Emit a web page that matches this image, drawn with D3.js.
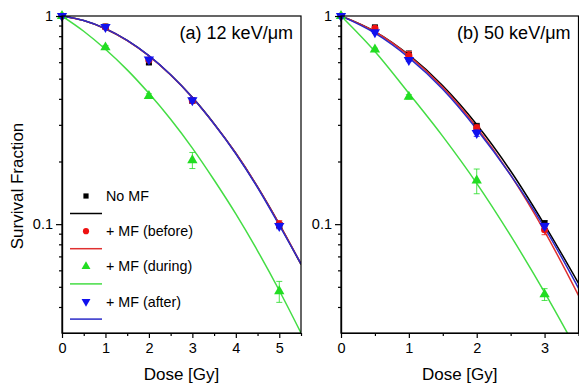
<!DOCTYPE html>
<html>
<head>
<meta charset="utf-8">
<script src="https://d3js.org/d3.v7.min.js"></script>
<style>
  body { margin: 0; background: #fff; }
  svg { display: block; font-family: "Liberation Sans", Arial, sans-serif; }
  .axis path, .axis line { stroke: #000; stroke-width: 1.2; }
  .axis text { font-size: 14.5px; fill: #000; }
</style>
</head>
<body>
<script>
// series
const seriesNames = ['No MF', '+ MF (before)', '+ MF (during)', '+ MF (after)'];
const markerColors = ['#000000', '#ee1111', '#22dd22', '#1111ee'];
const lineColors = ['#000000', '#e03030', '#44dd44', '#2b2bc8'];

// (a) 12 keV/um - measured points
const doseA = [0, 1, 2, 3, 5];
const noMF_A = [1, 0.89, 0.598, 0.392, 0.099];
const before_A = [1, 0.885, 0.615, 0.392, 0.1];
const during_A = [1, 0.707, 0.413, 0.203, 0.0476];
const after_A = [1, 0.885, 0.618, 0.394, 0.098];
const errNoMF_A = [0, 0.02, 0.012, 0.01, 0.003];
const errBefore_A = [0, 0.02, 0.01, 0.01, 0.004];
const errDuring_A = [0, 0.015, 0.01, 0.018, 0.0055];
const errAfter_A = [0, 0.012, 0.01, 0.01, 0.003];

// (a) fitted curves
const fitDoseA = [0, 0.5, 1, 1.5, 2, 2.5, 3, 3.5, 4, 4.5, 5, 5.5];
const fitNoMF_A = [1, 0.951, 0.869, 0.763, 0.644, 0.522, 0.407, 0.304, 0.219, 0.151, 0.100, 0.064];
const fitBefore_A = [1, 0.950, 0.868, 0.762, 0.643, 0.521, 0.406, 0.303, 0.219, 0.151, 0.100, 0.0645];
const fitDuring_A = [1, 0.845, 0.692, 0.551, 0.425, 0.319, 0.232, 0.163, 0.112, 0.0745, 0.048, 0.030];
const fitAfter_A = [1, 0.951, 0.870, 0.764, 0.645, 0.522, 0.406, 0.303, 0.218, 0.150, 0.099, 0.0645];

// (b) 50 keV/um - measured points
const doseB = [0, 0.5, 1, 2, 3];
const noMF_B = [1, 0.882, 0.65, 0.295, 0.101];
const before_B = [1, 0.872, 0.645, 0.29, 0.094];
const during_B = [1, 0.69, 0.409, 0.162, 0.046];
const after_B = [1, 0.835, 0.614, 0.274, 0.098];
const errNoMF_B = [0, 0.01, 0.03, 0.01, 0.003];
const errBefore_B = [0, 0.01, 0.03, 0.01, 0.005];
const errDuring_B = [0, 0.01, 0.01, 0.022, 0.003];
const errAfter_B = [0, 0.01, 0.01, 0.01, 0.003];

// (b) fitted curves
const fitDoseB = [0, 0.5, 1, 1.5, 2, 2.5, 3, 3.5];
const fitNoMF_B = [1, 0.842, 0.650, 0.462, 0.301, 0.180, 0.0993, 0.052];
const fitBefore_B = [1, 0.840, 0.645, 0.454, 0.292, 0.172, 0.0924, 0.0455];
const fitDuring_B = [1, 0.675, 0.425, 0.264, 0.157, 0.088, 0.047, 0.024];
const fitAfter_B = [1, 0.827, 0.631, 0.445, 0.286, 0.172, 0.0963, 0.0493];

// axis ticks
const yMajor = [1, 0.1];
const yMinor = [0.04, 0.05, 0.06, 0.07, 0.08, 0.09, 0.2, 0.3, 0.4, 0.5, 0.6, 0.7, 0.8, 0.9];
const xMajorA = [0, 1, 2, 3, 4, 5];
const xMinorA = [0.5, 1.5, 2.5, 3.5, 4.5, 5.5];
const xMajorB = [0, 1, 2, 3];
const xMinorB = [0.5, 1.5, 2.5, 3.5];

const W = 579, H = 384;
const plotTop = 16, plotBottom = 333;

const panels = [
  {
    id: 'a', title: '(a) 12 keV/\u03bcm', x0: 62, x1: 301, xMax: 5.5,
    xMajor: xMajorA, xMinor: xMinorA, dose: doseA, fitDose: fitDoseA,
    pts: [noMF_A, before_A, during_A, after_A],
    err: [errNoMF_A, errBefore_A, errDuring_A, errAfter_A],
    fits: [fitNoMF_A, fitBefore_A, fitDuring_A, fitAfter_A], legend: true
  },
  {
    id: 'b', title: '(b) 50 keV/\u03bcm', x0: 341, x1: 578.5, xMax: 3.5,
    xMajor: xMajorB, xMinor: xMinorB, dose: doseB, fitDose: fitDoseB,
    pts: [noMF_B, before_B, during_B, after_B],
    err: [errNoMF_B, errBefore_B, errDuring_B, errAfter_B],
    fits: [fitNoMF_B, fitBefore_B, fitDuring_B, fitAfter_B], legend: false
  }
];

const svg = d3.select('body').append('svg')
  .attr('width', W)
  .attr('height', H);

const y = d3.scaleLog().domain([0.03, 1]).range([plotBottom, plotTop]);

const shapes = [d3.symbolSquare, d3.symbolCircle, d3.symbolTriangle, d3.symbolTriangle];
const sizes = [36, 40, 46, 46];
const rotations = [0, 0, 0, 180];

function marker(g, i, cx, cy, scale) {
  g.append('path')
    .attr('d', d3.symbol().type(shapes[i]).size(sizes[i] * scale)())
    .attr('transform', `translate(${cx},${cy}) rotate(${rotations[i]})`)
    .attr('fill', markerColors[i]);
}

panels.forEach(p => {
  const x = d3.scaleLinear().domain([0, p.xMax]).range([p.x0, p.x1]);
  const g = svg.append('g');

  g.append('clipPath').attr('id', 'clip-' + p.id)
    .append('rect')
    .attr('x', p.x0).attr('y', plotTop)
    .attr('width', p.x1 - p.x0).attr('height', plotBottom - plotTop);

  // fitted curves
  const line = d3.line()
    .x((d, k) => x(p.fitDose[k]))
    .y(d => y(d))
    .curve(d3.curveMonotoneX);

  g.append('g').attr('clip-path', `url(#clip-${p.id})`)
    .selectAll('path')
    .data(p.fits)
    .join('path')
    .attr('d', line)
    .attr('fill', 'none')
    .attr('stroke', (d, i) => lineColors[i])
    .attr('stroke-width', 1.5);

  // error bars + markers
  p.pts.forEach((vals, i) => {
    const sg = g.append('g');
    vals.forEach((v, k) => {
      const e = p.err[i][k];
      if (e > 0) {
        const cx = x(p.dose[k]);
        const yt = y(v + e), yb = y(v - e);
        sg.append('line').attr('x1', cx).attr('x2', cx).attr('y1', yt).attr('y2', yb)
          .attr('stroke', markerColors[i]).attr('stroke-width', 0.8);
        [yt, yb].forEach(yy => sg.append('line')
          .attr('x1', cx - 3).attr('x2', cx + 3).attr('y1', yy).attr('y2', yy)
          .attr('stroke', markerColors[i]).attr('stroke-width', 0.8));
      }
      marker(sg, i, x(p.dose[k]), y(v), 1);
    });
  });

  // frame
  g.append('rect')
    .attr('x', p.x0).attr('y', plotTop)
    .attr('width', p.x1 - p.x0).attr('height', plotBottom - plotTop)
    .attr('fill', 'none').attr('stroke', '#000').attr('stroke-width', 1.2);

  // axes
  g.append('g').attr('class', 'axis')
    .attr('transform', `translate(${p.x0},0)`)
    .call(d3.axisLeft(y).tickValues(yMajor).tickFormat(d3.format('')).tickSize(6).tickSizeOuter(0).tickPadding(3));
  g.append('g').attr('class', 'axis')
    .attr('transform', `translate(${p.x0},0)`)
    .call(d3.axisLeft(y).tickValues(yMinor).tickFormat('').tickSize(3).tickSizeOuter(0));
  g.append('g').attr('class', 'axis')
    .attr('transform', `translate(0,${plotBottom})`)
    .call(d3.axisBottom(x).tickValues(p.xMajor).tickFormat(d3.format('d')).tickSize(5).tickSizeOuter(0).tickPadding(5));
  g.append('g').attr('class', 'axis')
    .attr('transform', `translate(0,${plotBottom})`)
    .call(d3.axisBottom(x).tickValues(p.xMinor).tickFormat('').tickSize(3).tickSizeOuter(0));

  g.append('text')
    .attr('x', p.x1 - 8).attr('y', 39)
    .attr('text-anchor', 'end')
    .attr('font-size', 18)
    .text(p.title);

  g.append('text')
    .attr('x', (p.x0 + p.x1) / 2).attr('y', 379.5)
    .attr('text-anchor', 'middle')
    .attr('font-size', 17)
    .text('Dose [Gy]');

  if (p.legend) {
    const lg = g.append('g');
    seriesNames.forEach((name, i) => {
      const cy = 196 + i * 35.2;
      marker(lg, i, 86, cy, 0.75);
      lg.append('text').attr('x', 106).attr('y', cy + 5)
        .attr('font-size', 14.3).text(name);
      lg.append('line').attr('x1', 70).attr('x2', 102)
        .attr('y1', cy + 17.5).attr('y2', cy + 17.5)
        .attr('stroke', lineColors[i]).attr('stroke-width', 1.5);
    });
  }
});

svg.append('text')
  .attr('transform', 'translate(23,186) rotate(-90)')
  .attr('text-anchor', 'middle')
  .attr('font-size', 17)
  .text('Survival Fraction');
</script>
</body>
</html>
